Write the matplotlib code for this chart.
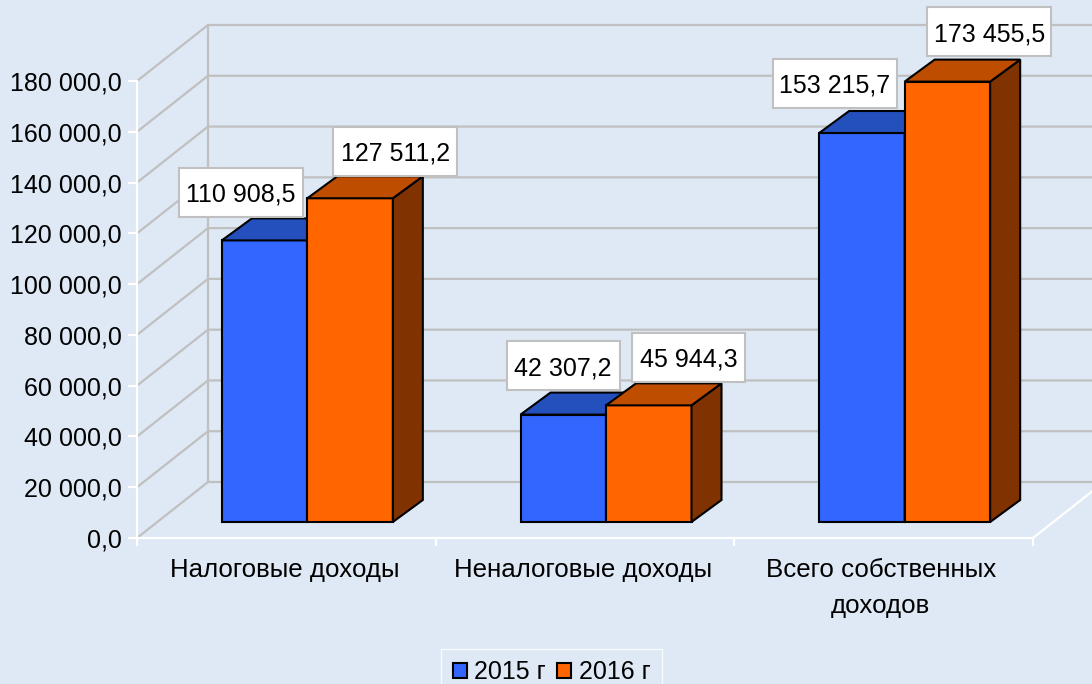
import matplotlib
matplotlib.use("Agg")
import matplotlib.pyplot as plt
from matplotlib.patches import Polygon, Rectangle, Patch

plt.rcParams['font.family'] = ['Liberation Sans', 'DejaVu Sans']

# Dados
categorias = ["Налоговые доходы", "Неналоговые доходы", "Всего собственных\nдоходов"]
anos = ["2015 г", "2016 г"]
valores_2015 = [110908.5, 42307.2, 153215.7]
valores_2016 = [127511.2, 45944.3, 173455.5]
rotulos_2015 = ["110 908,5", "42 307,2", "153 215,7"]
rotulos_2016 = ["127 511,2", "45 944,3", "173 455,5"]
y_ticks = [0, 20000, 40000, 60000, 80000, 100000, 120000, 140000, 160000, 180000]
y_labels = ["0,0", "20 000,0", "40 000,0", "60 000,0", "80 000,0",
            "100 000,0", "120 000,0", "140 000,0", "160 000,0", "180 000,0"]

# Cores
fundo = "#DEE9F5"
grade = "#C0C0C0"
cor_2015 = ("#3366FF", "#2450BE", "#19398F")
cor_2016 = ("#FF6600", "#BF4D00", "#803300")

W, H = 1092, 684
fig = plt.figure(figsize=(W / 100, H / 100), dpi=100, facecolor=fundo)

# eixo em pixels: x 137..1033, y 538..81
x0, x1, y0, y1 = 137, 1033, 538, 81
ax = fig.add_axes([x0 / W, 1 - y0 / H, (x1 - x0) / W, (y0 - y1) / H])
ax.set_facecolor("none")
ax.set_xlim(0, 3)
ax.set_ylim(0, 180000)

ux = 3 / (x1 - x0)              # unidades por pixel
uy = 180000 / (y0 - y1)

# parede do fundo e linhas de grade em perspectiva
prof_x, prof_y = 71 * ux, 56 * uy
x_fim = 3 + prof_x
for v in y_ticks:
    ax.plot([0, prof_x, x_fim], [v, v + prof_y, v + prof_y], color=grade, lw=1.6,
            clip_on=False, zorder=1, solid_joinstyle="miter")
ax.plot([prof_x, prof_x], [prof_y, 180000 + prof_y], color=grade, lw=1.6, clip_on=False, zorder=1)
ax.plot([3, x_fim], [0, prof_y], color="white", lw=1.6, clip_on=False, zorder=1)

# barras 3D
larg = 85.5 * ux
desl_x, base = 21 * ux, 16 * uy
bar_dx, bar_dy = 30 * ux, 22 * uy


def barra(x, v, cores, z):
    topo = base + v
    ax.bar(x, v, width=larg, bottom=base, align="edge", color=cores[0], edgecolor="black",
           linewidth=1.5, zorder=z, clip_on=False)
    lado = [(x + larg, base), (x + larg + bar_dx, base + bar_dy),
            (x + larg + bar_dx, topo + bar_dy), (x + larg, topo)]
    cima = [(x, topo), (x + bar_dx, topo + bar_dy),
            (x + larg + bar_dx, topo + bar_dy), (x + larg, topo)]
    ax.add_patch(Polygon(lado, facecolor=cores[2], edgecolor="black", lw=1.5, zorder=z, clip_on=False))
    ax.add_patch(Polygon(cima, facecolor=cores[1], edgecolor="black", lw=1.5, zorder=z, clip_on=False))


for i in range(3):
    centro = i + 0.5 + desl_x
    barra(centro - larg, valores_2015[i], cor_2015, 3 + i)
    barra(centro, valores_2016[i], cor_2016, 3 + i + 0.5)

# rotulos de valores, deslocamento em pixels a partir do topo da barra
desloc_2015 = [(-24, 48), (0, 49), (-27, 50)]
desloc_2016 = [(45, 47), (40, 48), (42, 50)]
caixa_h = 49 * uy


def rotulo(x, v, texto, off):
    cx = x + off[0] * ux
    cy = base + v + off[1] * uy
    caixa_w = (124 if len(texto) > 8 else 113) * ux
    ax.add_patch(Rectangle((cx - caixa_w / 2, cy - caixa_h / 2), caixa_w, caixa_h, facecolor="white",
                           edgecolor=grade, lw=1.5, zorder=10, clip_on=False))
    ax.text(cx, cy, texto, fontsize=18, ha="center", va="center_baseline", color="black", zorder=11)


for i in range(3):
    centro = i + 0.5 + desl_x
    rotulo(centro - larg / 2, valores_2015[i], rotulos_2015[i], desloc_2015[i])
    rotulo(centro + larg / 2, valores_2016[i], rotulos_2016[i], desloc_2016[i])

# eixos
for lado_ax in ("top", "right"):
    ax.spines[lado_ax].set_visible(False)
for lado_ax in ("left", "bottom"):
    ax.spines[lado_ax].set_color("white")
    ax.spines[lado_ax].set_linewidth(1.6)
ax.set_yticks(y_ticks)
ax.set_yticklabels(y_labels, fontsize=18)
ax.tick_params(axis="y", color="white", width=1.6, length=6.5, pad=4.5)
ax.set_xticks([0, 1, 2, 3])
ax.set_xticklabels([])
ax.tick_params(axis="x", which="major", color="white", width=1.6, length=6)
ax.set_xticks([0.495, 1.495, 2.49], minor=True)
ax.set_xticklabels(categorias, minor=True, fontsize=18.6, linespacing=1.6)
ax.tick_params(axis="x", which="minor", length=0, pad=14.5)

# legenda
fig.legend(handles=[Patch(facecolor=cor_2015[0], edgecolor="black", lw=1.5, label=anos[0]),
                    Patch(facecolor=cor_2016[0], edgecolor="black", lw=1.5, label=anos[1])],
           loc="upper center", bbox_to_anchor=(551.5 / W, 1 - 649 / H), ncol=2, fontsize=18,
           frameon=True, fancybox=False, facecolor="none", edgecolor="white", framealpha=None,
           handlelength=0.56, handleheight=0.56, handletextpad=0.3, columnspacing=0.45,
           borderpad=0.45, borderaxespad=0)

fig.savefig("out.png", dpi=100, facecolor=fundo)
